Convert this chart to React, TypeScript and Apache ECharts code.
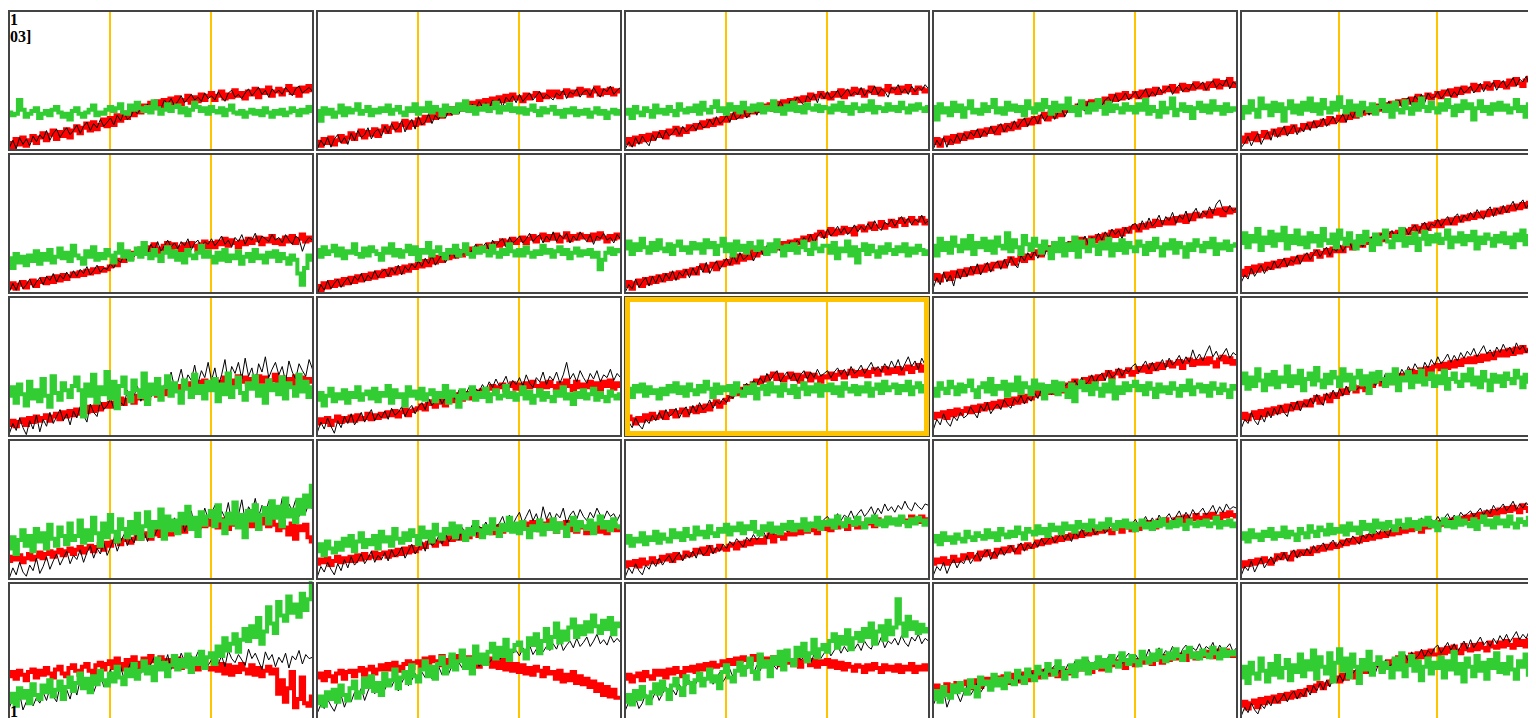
import { useEffect, useRef } from "react";
import * as echarts from "echarts";

const titleLines = ["1", "03]"];
const cornerLabel = "1";
const xMax = 90;
const guideMarks = [30, 60];
const highlighted = 12;

// Row 1
const red01 = [5,2,8,4,9,3,7,10,5,9, 12,7,11,14,8,13,10,15,9,14, 17,12,16,19,14,20,15,18,22,17, 23,18,25,21,27,23,29,25,31,27, 32,28,34,30,35,31,36,32,37,33, 38,33,36,39,34,38,35,40,36,39, 41,36,39,42,37,40,38,43,39,41, 37,42,40,44,38,43,41,45,39,42, 44,40,43,46,41,44,39,45,42,46,43];
const black01 = [2,7,1,9,4,8,3,10,6,11, 8,14,7,12,15,9,13,16,11,14, 18,12,17,20,14,19,16,22,17,20, 23,18,25,21,27,22,24,29,26,30, 28,33,29,35,31,30,36,33,37,32, 35,39,34,37,40,36,38,35,41,37, 39,36,42,38,35,41,43,38,40,37, 41,44,39,42,45,40,43,38,44,41, 43,40,45,42,39,44,46,41,43,45,42];
const green01 = [27,25,26,36,29,24,26,28,30,23, 26,28,25,29,31,27,24,26,22,28, 30,26,24,27,29,32,25,27,26,29, 31,28,30,33,27,26,32,29,34,30, 28,31,27,35,30,26,29,33,28,31, 32,27,30,25,29,34,31,28,30,26, 31,28,27,30,25,29,32,27,26,28, 24,27,29,26,28,25,30,27,24,28, 26,29,25,27,30,28,25,29,27,31,28];

const red02 = [6,3,8,5,9,4,7,10,6,9, 12,8,11,14,9,13,11,15,10,14, 17,13,16,19,14,18,21,16,20,18, 22,19,24,21,26,23,27,24,29,26, 30,27,32,29,33,30,34,31,35,33, 36,33,37,34,38,35,39,36,40,37, 38,35,40,37,39,41,36,40,38,42, 39,42,38,41,43,39,42,40,44,41, 43,39,42,45,40,43,41,44,40,43,42];
const black02 = [1,7,3,9,2,8,11,5,9,4, 12,7,14,9,11,16,8,13,15,10, 17,12,19,14,16,21,13,18,22,15, 24,18,20,26,19,25,22,27,23,28, 25,30,26,32,28,27,33,29,35,31, 34,30,36,33,37,31,38,35,39,34, 40,35,38,41,36,39,42,37,40,38, 36,41,39,43,37,42,40,44,38,42, 43,39,45,41,38,44,42,46,40,43,45];
const green02 = [28,21,30,26,29,24,27,32,25,30, 27,29,33,26,28,31,25,29,27,30, 28,32,26,29,31,27,25,30,28,33, 26,30,28,34,27,31,29,25,32,28, 30,27,33,29,35,28,31,26,30,29, 32,28,30,34,27,31,29,33,28,30, 27,30,26,29,32,28,25,30,27,29, 31,26,28,24,29,27,30,25,28,26, 29,24,27,30,26,28,23,27,29,26,28];

const red03 = [5,8,4,9,6,10,7,11,8,12, 10,13,9,14,12,16,11,15,13,17, 15,18,16,20,17,21,18,22,19,23, 21,25,23,27,24,28,25,29,27,31, 28,32,30,33,29,34,31,35,33,36, 34,37,35,38,36,40,37,39,41,38, 40,37,41,39,43,38,42,40,44,41, 43,39,42,45,41,44,40,43,46,42, 44,41,45,42,46,43,41,45,44,42,43];
const black03 = [1,6,2,9,4,10,6,3,11,7, 13,8,14,10,12,16,11,17,13,15, 18,14,20,16,17,22,18,24,19,21, 25,20,27,22,24,29,23,26,31,25, 30,26,32,28,33,29,35,31,30,36, 33,38,35,32,39,36,40,34,41,37, 42,37,39,43,38,41,44,39,42,40, 45,39,43,41,46,40,44,42,38,45, 43,47,41,44,40,46,42,45,43,47,44];
const green03 = [26,29,23,31,27,25,30,28,24,32, 27,29,26,31,28,25,33,29,27,30, 28,32,26,34,29,27,31,35,28,30, 26,33,29,31,27,34,30,28,32,29, 33,27,31,29,35,28,30,26,32,29, 34,28,31,27,33,30,29,32,28,31, 30,27,32,29,34,28,31,26,33,30, 28,32,29,35,27,31,30,28,33,29, 31,28,34,30,27,32,29,33,30,28,31];

const red04 = [5,8,3,7,9,5,10,6,11,8, 12,9,13,10,14,11,15,13,16,12, 17,14,18,15,19,16,21,18,22,19, 23,20,24,26,22,27,24,28,25,30, 28,31,29,32,30,34,31,35,33,36, 34,37,35,39,36,40,37,41,38,39, 41,38,42,39,43,40,44,41,42,45, 43,46,42,44,47,43,46,44,48,45, 47,44,48,46,50,45,49,47,51,46,48];
const black04 = [1,7,3,9,2,8,5,11,6,12, 8,13,10,15,9,14,11,17,12,16, 19,13,18,15,21,16,20,23,17,22, 24,19,26,21,25,28,22,27,30,24, 29,32,27,34,30,28,35,31,33,37, 32,36,38,34,40,35,37,41,36,39, 42,37,40,44,38,42,39,45,41,43, 46,40,44,47,42,45,43,48,44,46, 49,43,47,50,45,48,46,51,44,49,47];
const green04 = [31,22,33,27,30,25,34,28,32,24, 30,35,27,29,26,33,28,31,36,27, 30,26,34,29,32,28,31,25,35,30, 27,33,29,36,31,26,34,28,32,30, 37,28,31,25,35,30,27,33,29,36, 31,26,34,28,32,30,27,33,29,31, 27,33,29,36,26,31,28,24,34,27, 30,37,25,29,33,28,31,23,30,34, 28,32,27,35,29,31,26,33,28,30,29];

const red05 = [9,6,11,8,12,7,10,13,9,12, 14,11,15,12,16,13,17,14,15,18, 16,19,17,20,18,21,19,23,20,22, 24,21,25,23,27,24,28,26,29,27, 30,28,32,29,33,31,34,32,35,33, 36,34,37,35,39,36,38,40,37,39, 41,38,42,40,43,39,44,41,45,42, 44,47,43,46,45,48,44,47,49,46, 48,45,50,47,51,48,46,50,52,49,50];
const black05 = [2,5,10,3,8,12,4,9,13,7, 15,9,13,17,10,14,18,11,16,13, 19,14,21,16,18,23,17,20,24,19, 22,26,20,27,23,29,24,26,30,25, 31,26,33,28,30,35,29,32,36,31, 35,38,32,39,36,40,34,41,37,38, 42,37,40,44,38,42,39,45,41,43, 46,41,44,48,42,47,45,49,43,47, 50,45,48,52,46,51,49,53,47,51,49];
const green05 = [23,31,27,35,29,24,37,30,32,25, 34,28,33,21,30,35,27,32,26,34, 29,37,28,33,26,36,30,27,34,29, 38,31,27,35,29,32,25,34,30,28, 33,26,31,36,28,32,24,34,29,27, 35,30,26,33,29,37,31,28,34,30, 27,33,29,36,31,25,32,28,35,30, 33,22,30,35,28,31,26,33,29,34, 29,32,27,30,36,28,31,24,33,29,30];

// Row 2
const red06 = [4,7,3,6,8,4,7,9,5,8, 10,7,11,8,12,9,13,10,12,14, 12,15,13,16,14,17,15,18,16,17, 19,21,20,24,23,27,25,29,28,32, 30,33,31,35,32,29,34,36,31,35, 33,30,35,32,36,34,31,35,37,33, 36,33,37,35,39,34,38,36,33,37, 35,39,36,38,40,35,39,37,41,36, 38,35,40,37,41,36,39,42,37,40,38];
const black06 = [1,7,2,9,3,6,10,4,8,11, 6,12,9,14,8,13,10,15,11,16, 12,17,14,19,13,16,20,15,18,17, 21,18,24,22,27,23,29,26,31,28, 33,29,35,31,37,30,34,38,33,36, 32,37,34,39,31,36,38,33,37,35, 39,34,37,41,35,38,33,40,37,42, 35,40,38,43,36,41,39,37,42,38, 40,36,42,38,35,41,39,30,37,40,38];
const green06 = [25,18,28,22,26,20,27,23,30,21, 28,24,31,22,26,32,25,29,23,34, 27,25,21,30,26,33,24,28,25,31, 27,22,29,35,26,30,24,28,32,26, 36,28,25,31,27,23,29,33,26,30, 24,28,22,31,27,25,29,34,26,30, 26,22,29,24,31,23,27,25,30,21, 26,28,23,31,25,27,22,29,26,30, 23,28,25,21,27,24,14,6,18,27,24];

const red07 = [5,2,7,4,8,5,9,6,10,7, 11,8,12,9,13,10,14,11,15,12, 16,13,17,14,18,15,19,16,20,18, 21,19,23,20,25,22,26,23,27,25, 28,26,30,27,31,29,32,30,34,31, 33,35,32,36,34,38,35,37,39,36, 38,40,36,39,41,37,40,42,38,41, 39,42,37,40,43,38,41,39,42,40, 41,38,42,39,43,40,37,41,39,42,40];
const black07 = [0,6,2,9,3,7,10,4,8,11, 6,12,9,14,8,13,10,16,11,15, 17,12,18,14,20,13,19,16,21,18, 23,19,25,21,27,20,24,28,22,26, 30,25,32,27,34,28,31,35,29,33, 36,31,38,34,37,39,33,40,36,38, 41,36,39,43,37,40,42,36,41,38, 44,37,42,39,43,36,41,38,44,40, 37,42,35,41,39,43,38,40,36,42,39];
const green07 = [31,26,33,28,30,34,27,32,25,30, 29,35,28,26,32,27,33,30,28,24, 32,29,35,27,31,26,30,34,28,33, 24,31,29,36,27,30,33,28,25,31, 29,34,27,30,35,28,26,32,29,33, 30,27,34,29,26,31,28,35,30,27, 31,27,33,29,26,30,28,34,29,31, 26,30,33,28,31,25,29,32,27,30, 28,31,26,29,17,24,29,32,28,31,30];

const red08 = [5,8,3,7,9,5,10,7,11,8, 12,9,13,10,14,11,15,12,16,14, 17,14,18,20,16,19,21,17,22,20, 23,21,25,22,27,24,28,25,30,27, 29,32,30,33,31,35,32,36,34,37, 35,38,36,40,38,41,39,42,44,41, 43,46,42,45,43,47,44,46,42,47, 48,45,47,50,46,48,51,47,49,52, 48,51,53,49,52,54,50,52,54,50,52];
const black08 = [1,6,3,10,4,8,11,5,12,7, 13,8,14,10,16,9,15,12,17,11, 18,13,20,15,22,14,19,23,17,21, 25,20,27,22,29,24,26,30,23,28, 32,27,34,29,31,36,30,35,33,37, 33,38,35,40,37,42,36,41,44,39, 46,41,44,48,43,47,42,45,49,44, 48,45,50,46,52,47,45,51,49,53, 48,52,55,50,54,49,53,51,56,50,52];
const green08 = [32,37,28,35,31,39,33,29,36,31, 38,32,30,35,28,34,37,31,33,29, 36,32,35,29,38,33,36,28,34,39, 30,35,27,37,31,34,29,36,33,31, 37,32,28,35,30,38,33,27,34,31, 35,29,33,37,31,28,36,32,30,34, 34,29,36,25,32,30,37,27,33,22, 31,35,28,34,30,26,33,29,35,31, 28,33,30,35,27,32,29,34,31,28,30];

const red09 = [10,13,9,12,14,10,15,12,16,13, 17,14,18,15,19,16,20,17,21,19, 22,19,23,25,21,24,26,23,27,25, 28,30,27,31,33,29,32,34,31,35, 33,36,34,37,39,35,38,40,37,41, 39,42,40,44,41,45,42,46,44,47, 48,45,49,47,50,48,52,49,51,50, 53,50,54,52,55,51,56,53,57,55, 56,58,55,59,57,60,56,61,58,60,59];
const black09 = [4,11,6,15,8,13,5,16,10,17, 12,19,14,21,13,18,22,15,20,23, 17,24,19,26,21,18,27,23,29,25, 30,25,32,27,34,29,31,36,30,35, 37,32,39,34,36,41,35,40,38,43, 38,44,40,46,42,45,39,47,43,49, 50,45,52,47,54,48,51,56,49,55, 52,58,50,56,53,59,51,57,61,54, 59,56,62,57,64,67,60,58,63,59,61];
const green09 = [34,27,39,31,36,29,40,34,30,38, 32,41,28,36,33,39,31,37,29,40, 34,32,43,30,38,33,28,41,35,31, 39,34,29,37,32,25,36,30,39,27, 35,31,40,26,37,33,30,38,34,28, 36,32,39,27,35,31,38,29,36,33, 30,37,34,28,36,31,39,33,27,35, 32,38,29,36,33,26,35,31,38,34, 30,36,33,39,28,35,32,37,31,34,35];

const red10 = [16,13,18,15,19,16,20,17,21,18, 22,19,23,20,24,21,25,22,26,24, 27,24,28,30,26,29,31,27,32,30, 33,30,34,36,32,35,37,34,38,36, 39,37,40,42,38,41,43,40,44,42, 45,43,46,48,44,47,49,46,50,48, 51,48,52,50,53,50,54,52,55,53, 56,54,57,55,58,56,59,57,60,58, 61,59,62,60,63,61,64,62,65,62,63];
const black10 = [8,13,10,18,12,16,20,14,19,17, 23,18,21,25,19,24,22,27,21,26, 29,24,28,31,26,30,33,27,32,30, 35,30,34,37,31,36,39,33,38,36, 41,36,40,43,37,42,45,39,44,42, 47,42,46,49,43,48,51,45,50,48, 53,48,52,55,49,54,57,51,56,53, 58,54,60,56,53,59,62,55,61,57, 63,58,62,66,60,64,67,61,65,62,64];
const green10 = [36,43,33,41,37,46,31,40,36,44, 34,42,38,47,32,41,36,45,35,40, 33,43,37,41,34,46,38,36,42,33, 45,39,35,43,37,32,41,36,44,38, 31,42,35,40,45,37,33,41,38,46, 34,40,36,43,31,39,44,35,41,37, 42,36,39,45,33,40,37,43,35,41, 38,44,32,40,36,42,39,34,41,37, 43,36,40,33,42,38,45,35,41,37,40];

// Row 3
const red11 = [8,11,7,10,12,8,13,10,14,11, 13,15,11,14,16,12,17,14,18,15, 19,16,20,17,21,18,22,19,23,21, 24,21,25,27,23,26,28,24,29,27, 30,27,31,33,29,32,34,30,35,33, 36,33,37,35,38,36,39,37,40,38, 37,41,36,39,42,37,40,36,43,39, 42,37,41,38,43,39,42,37,40,44, 38,42,37,41,36,43,39,42,37,41,39];
const black11 = [2,9,4,13,6,1,11,5,15,3, 12,7,17,9,14,19,11,16,8,18, 13,21,15,10,23,17,14,25,19,22, 27,20,30,24,22,33,26,29,36,25, 31,38,28,35,42,30,37,33,46,35, 39,48,36,44,40,51,38,47,42,53, 40,49,36,44,55,38,50,45,53,41, 56,43,49,37,52,46,57,42,48,53, 44,50,39,54,46,41,52,47,43,55,48];
const green11 = [29,35,24,37,30,22,39,27,33,25, 41,29,21,43,31,26,38,33,28,36, 42,33,14,37,29,44,24,35,30,46, 27,39,20,36,42,31,25,40,33,28, 45,23,37,30,41,26,35,43,29,38, 32,24,40,34,28,44,31,36,27,39, 33,41,25,37,30,45,28,35,42,31, 26,38,34,43,29,36,24,40,33,37, 30,42,27,38,35,29,44,32,39,28,35];

const red12 = [9,12,10,13,8,11,14,10,13,11, 14,11,15,12,13,16,12,15,13,16, 14,17,15,18,14,17,19,15,18,19, 20,22,19,23,25,21,24,26,22,27, 25,28,30,26,29,31,27,32,30,33, 31,34,36,32,35,37,33,36,38,34, 37,33,38,35,39,36,33,38,35,39, 36,33,38,35,40,36,33,39,35,37, 35,39,34,38,33,39,36,40,34,38,36];
const black12 = [3,10,5,13,7,2,11,6,14,9, 16,8,12,17,10,15,19,11,16,13, 18,12,20,15,17,21,14,19,22,16, 21,24,19,27,22,25,29,23,28,26, 31,26,33,28,30,35,29,34,32,37, 33,39,35,41,36,38,43,35,40,37, 42,36,44,38,35,42,39,46,37,43, 40,46,38,44,53,41,45,39,47,42, 38,45,41,47,39,44,42,48,40,45,42];
const green12 = [26,31,22,29,34,25,30,27,33,24, 31,28,35,26,30,32,27,34,25,31, 29,36,24,33,28,30,22,35,29,32, 27,34,26,30,33,25,31,28,36,24, 32,29,21,33,27,30,35,26,31,28, 34,25,30,33,27,29,36,28,31,26, 30,35,27,32,24,29,33,26,31,28, 25,32,29,35,27,30,23,31,28,33, 27,30,34,26,31,28,25,32,29,27,30];

const red13 = [11,14,12,9,13,11,15,12,16,13, 14,17,13,16,18,14,17,19,15,18, 20,17,21,18,22,19,23,25,21,24, 26,28,30,32,30,34,36,34,38,40, 38,42,40,43,45,41,44,40,42,45, 41,44,39,43,45,40,44,42,39,43, 42,45,41,44,46,42,45,47,43,46, 44,47,43,46,48,44,47,49,45,48, 46,49,45,48,50,46,49,51,47,50,48];
const black13 = [3,10,6,13,8,5,12,9,15,11, 17,12,19,14,16,20,13,18,21,15, 22,17,24,19,21,26,20,25,23,27, 24,29,27,33,30,35,38,33,40,37, 42,38,45,40,44,47,39,43,46,41, 45,39,44,47,41,46,42,48,43,45, 47,42,46,49,44,48,43,50,45,47, 51,45,49,53,47,50,46,52,48,54, 49,55,47,52,57,50,54,48,56,51,53];
const green13 = [30,34,28,36,32,37,29,35,31,33, 27,34,30,36,32,38,31,35,29,37, 33,30,36,32,39,34,28,37,31,35, 33,36,30,38,32,29,35,31,37,27, 34,36,30,38,32,35,29,37,33,31, 36,28,34,38,30,35,32,37,29,36, 33,37,31,35,29,38,34,32,36,30, 35,32,38,29,34,37,31,39,33,35, 37,31,36,33,39,30,35,38,32,36,34];

const red14 = [13,16,14,17,13,18,15,19,16,18, 20,17,21,18,22,19,23,20,24,21, 25,22,26,23,27,24,28,25,29,27, 29,32,30,33,35,31,34,36,32,37, 35,38,40,36,39,41,37,42,39,43, 41,44,46,42,45,47,43,46,48,44, 46,49,47,50,46,51,48,52,49,51, 53,50,52,54,49,53,55,51,54,52, 55,52,56,53,50,55,57,53,56,52,54];
const black14 = [5,12,8,16,10,7,14,11,17,13, 15,21,17,13,22,18,24,16,20,23, 19,26,22,20,27,24,29,23,28,25, 31,27,33,29,35,30,32,37,31,36, 38,34,40,36,42,37,39,44,38,43, 45,40,47,42,44,49,43,48,46,50, 52,46,50,54,48,53,47,51,55,49, 56,51,54,58,52,57,53,62,55,59, 54,60,65,57,61,55,59,63,56,60,58];
const green14 = [34,29,38,34,31,39,35,30,37,32, 36,40,33,28,35,38,32,41,30,36, 34,39,29,37,33,42,31,38,35,30, 40,34,37,27,36,32,39,30,38,33, 28,37,25,35,39,33,36,30,38,34, 29,37,32,40,27,35,31,38,33,36, 39,33,36,30,38,34,28,37,32,35, 31,38,34,29,36,33,40,30,35,37, 32,36,29,38,34,31,37,33,28,36,34];

const red15 = [13,16,12,15,17,13,18,15,19,16, 20,17,21,18,22,19,23,20,24,22, 25,22,26,28,24,27,29,25,30,28, 30,33,31,34,36,32,35,37,33,38, 36,39,41,37,40,42,38,43,41,44, 42,45,47,43,46,48,44,49,47,50, 51,48,52,49,53,50,54,51,55,53, 56,53,57,54,58,55,59,56,60,58, 61,58,62,59,63,60,64,61,62,65,62];
const black15 = [6,12,9,17,11,8,15,10,18,13, 20,15,22,17,14,23,19,25,18,24, 21,27,23,30,25,22,31,27,33,28, 34,29,36,31,38,33,35,40,34,39, 41,36,43,38,45,40,37,46,42,48, 44,50,46,52,48,45,53,49,55,51, 57,52,55,59,53,58,54,60,56,61, 58,63,57,61,65,59,62,57,64,60, 66,61,64,59,67,62,65,60,64,63,61];
const green15 = [38,45,34,42,36,48,40,33,44,37, 46,35,42,39,50,36,43,38,47,33, 41,45,37,49,40,35,44,38,46,42, 36,48,40,44,34,42,47,37,43,31, 45,39,46,41,36,44,38,48,33,42, 40,46,35,43,39,47,37,41,45,36, 43,38,47,34,41,45,39,36,44,40, 48,37,42,35,46,40,33,44,39,43, 36,45,41,38,47,42,35,44,39,42,41];

// Row 4
const red16 = [13,16,14,17,12,15,18,14,16,19, 15,18,20,16,19,21,17,20,22,18, 21,23,19,22,24,20,23,25,21,26, 24,27,29,25,28,30,26,29,32,29, 31,33,29,32,35,31,34,36,32,37, 35,38,34,39,36,40,37,41,38,42, 39,42,37,43,40,36,42,39,44,38, 41,43,38,42,36,40,44,38,42,39, 35,41,37,32,40,29,38,35,39,30,27];
const black16 = [1,8,3,12,5,2,10,6,15,4, 9,16,7,13,18,10,15,20,11,17, 14,21,12,19,24,15,22,18,26,17, 23,29,20,27,32,24,30,26,35,28, 33,27,38,31,36,42,30,40,35,44, 38,46,34,42,49,37,45,40,51,43, 47,53,41,49,44,55,40,51,46,57, 42,52,48,58,45,53,47,56,43,51, 46,58,44,54,49,57,45,52,48,55,50];
const green16 = [22,30,18,28,35,24,31,20,36,27, 33,22,39,29,24,37,31,25,40,28, 31,42,26,35,28,44,33,24,40,30, 46,34,27,43,36,30,41,33,47,29, 38,48,31,41,37,50,29,45,35,42, 33,47,40,52,36,44,31,48,39,45, 49,38,53,42,33,47,40,55,37,46, 30,49,42,53,36,46,51,40,56,44, 52,38,58,45,50,41,57,47,60,52,67];

const red17 = [11,14,12,15,10,13,16,12,15,13, 16,13,17,14,18,15,16,19,15,18, 19,16,20,17,21,18,22,19,23,20, 22,25,23,26,28,24,27,29,25,30, 28,31,29,32,34,30,33,35,31,36, 34,37,33,36,38,34,37,39,35,38, 39,36,40,37,41,38,35,40,37,42, 38,34,40,37,41,35,39,34,40,37, 33,38,36,39,34,38,33,37,39,35,36];
const black17 = [2,9,5,12,7,3,11,6,14,8, 16,10,13,18,11,15,20,12,17,14, 19,13,21,16,18,23,15,20,25,18, 22,27,20,29,24,26,31,25,33,27, 30,35,28,37,32,34,39,31,38,36, 41,35,43,38,40,45,37,46,39,44, 48,40,45,50,42,47,39,52,43,48, 41,47,44,51,40,46,49,43,50,45, 42,48,44,51,46,43,49,45,47,42,47];
const green17 = [20,25,17,27,22,19,26,21,29,24, 31,20,27,33,23,28,25,31,22,34, 27,30,24,36,29,26,33,28,35,31, 25,37,30,34,27,39,32,29,36,33, 40,30,38,34,28,36,32,41,35,30, 38,33,43,36,31,39,35,44,34,40, 33,41,36,30,38,35,42,32,39,36, 43,34,40,37,31,39,44,35,41,38, 36,42,33,40,45,37,41,35,43,38,37];

const red18 = [9,12,10,13,9,14,11,12,15,12, 13,16,14,17,13,18,15,16,19,17, 18,21,19,22,18,23,20,21,24,22, 21,24,25,22,26,24,27,25,28,26, 28,26,30,32,27,31,33,29,32,34, 32,35,33,36,34,37,35,33,38,36, 37,35,39,37,40,38,36,41,39,37, 40,38,42,40,38,43,41,39,44,41, 42,40,44,42,40,45,43,41,45,43,42];
const black18 = [2,8,4,11,6,3,10,7,13,9, 15,10,14,17,12,16,19,13,18,15, 20,15,22,17,19,24,18,23,20,25, 22,27,24,29,26,23,30,27,32,28, 31,34,29,36,32,35,33,38,34,37, 36,40,38,42,37,41,39,44,40,43, 45,41,43,47,42,46,44,49,43,47, 50,45,48,52,46,51,47,54,49,52, 48,53,50,56,51,49,55,52,50,54,53];
const green18 = [26,31,24,29,27,33,25,30,28,34, 26,32,29,27,35,30,33,28,36,31, 29,37,32,34,30,38,33,31,36,34, 39,32,37,35,40,33,38,36,41,34, 32,38,35,40,34,37,33,39,36,41, 35,39,37,43,35,40,38,44,36,41, 39,42,37,45,40,38,43,41,39,44, 40,37,43,41,45,39,42,38,44,40, 43,39,45,41,38,43,40,44,42,39,42];

const red19 = [11,14,12,15,11,13,16,13,14,17, 15,18,16,14,19,17,20,18,16,21, 19,22,20,23,21,19,24,22,25,23, 24,27,25,28,26,29,27,30,28,31, 29,32,30,33,31,34,32,35,33,36, 34,37,35,33,38,36,34,39,37,35, 38,36,40,38,41,39,37,42,40,43, 41,39,43,44,40,45,42,43,46,44, 43,46,44,47,45,43,47,45,48,46,45];
const black19 = [3,9,6,12,4,10,14,8,13,11, 17,11,15,19,13,18,21,14,20,16, 22,17,21,24,19,23,26,20,25,22, 27,23,29,25,28,31,26,30,33,28, 32,27,34,30,36,31,33,37,32,35, 38,33,36,40,35,39,37,41,36,40, 43,38,41,45,40,44,39,46,42,44, 47,42,45,49,43,48,44,50,46,48, 51,46,49,53,47,52,48,54,50,52,51];
const green19 = [27,31,25,33,28,30,26,32,29,27, 34,30,28,33,31,29,35,30,33,28, 36,32,30,34,31,37,33,29,36,34, 32,38,33,36,31,39,35,37,33,40, 36,38,34,41,37,39,35,42,38,36, 40,37,43,39,36,41,38,42,37,40, 35,39,42,37,40,36,41,38,43,39, 37,41,38,43,39,36,42,40,38,41, 39,42,38,40,44,37,41,39,42,38,40];

const red20 = [9,12,10,13,11,14,12,15,13,11, 14,17,15,18,16,14,19,17,20,18, 20,18,22,20,23,21,24,22,25,23, 24,27,25,28,26,29,27,30,28,31, 29,32,30,33,31,34,32,35,33,36, 34,37,35,38,36,34,39,37,40,38, 38,41,39,42,40,43,41,44,42,45, 43,46,44,47,45,48,46,49,47,50, 48,51,49,52,50,48,53,51,49,53,51];
const black20 = [3,9,6,13,5,10,15,8,12,16, 11,17,14,19,13,18,21,15,20,17, 22,18,24,20,23,26,21,25,28,23, 27,24,29,26,31,28,25,32,29,33, 30,35,32,37,33,31,38,35,40,36, 38,42,37,41,39,44,40,37,43,41, 45,41,44,47,42,46,43,48,45,47, 49,45,48,51,46,50,47,53,49,51, 54,49,52,56,50,54,51,55,52,54,53];
const green20 = [29,33,27,35,30,32,28,34,31,36, 29,33,31,37,30,34,32,28,36,33, 30,38,34,31,37,35,32,39,33,36, 34,38,32,40,35,37,33,41,36,39, 34,42,37,40,36,41,38,35,42,39, 37,43,38,41,36,42,39,44,38,41, 35,40,43,38,41,37,44,39,42,40, 38,43,36,41,45,39,42,37,44,40, 42,38,45,40,37,43,41,39,44,41,40];

// Row 5
const red21 = [31,34,29,35,32,28,34,36,30,35, 32,37,33,30,36,38,33,31,37,39, 35,32,38,40,35,33,39,41,36,40, 42,37,44,40,36,43,38,45,41,37, 44,39,46,42,37,45,40,43,38,42, 44,37,41,45,38,43,36,42,44,37, 36,42,35,40,33,39,32,38,34,40, 36,33,39,32,37,31,35,38,33,36, 18,28,12,22,34,8,14,30,11,9,16];
const black21 = [8,14,10,18,6,12,20,9,15,11, 19,13,22,16,12,24,18,21,14,25, 17,28,21,24,30,19,26,33,23,29, 36,26,32,38,29,35,41,31,37,33, 43,35,40,45,37,43,39,47,36,44, 40,48,42,38,46,43,49,41,45,39, 43,48,40,46,38,50,44,41,47,43, 39,51,44,48,42,36,49,43,47,38, 45,41,48,37,46,43,50,40,47,44,45];
const green21 = [12,18,9,22,15,20,11,25,17,14, 24,19,28,16,21,27,14,23,30,20, 26,33,22,29,19,31,25,35,28,24, 33,27,38,30,25,36,31,40,29,35, 42,33,38,28,44,36,41,31,39,46, 36,43,38,47,34,44,40,49,37,45, 48,40,53,46,59,50,55,62,49,58, 66,57,68,60,74,55,64,82,70,63, 86,76,72,90,78,84,75,92,80,88,100];

const red22 = [30,33,28,34,31,27,33,35,29,34, 35,31,35,37,32,36,38,33,36,39, 36,40,36,41,38,35,40,42,37,41, 42,38,44,41,45,42,39,46,43,40, 45,41,46,43,39,45,40,44,38,43, 40,44,38,42,37,43,36,41,35,40, 34,39,33,37,32,38,35,31,37,33, 34,29,35,27,32,28,34,26,31,25, 29,23,27,20,25,17,23,16,21,15,15];
const black22 = [4,10,7,14,9,5,12,17,8,15, 12,19,15,22,13,20,25,18,23,16, 21,27,23,29,20,26,31,24,28,33, 27,34,30,36,29,35,38,32,37,33, 39,35,41,37,43,36,40,45,38,42, 47,41,44,49,43,46,51,44,48,50, 46,52,48,54,47,51,56,49,53,50, 55,51,58,50,54,57,52,59,53,56, 60,53,57,62,55,58,54,61,56,59,56];
const green22 = [11,16,9,19,14,21,12,24,17,13, 22,27,15,19,29,23,31,20,26,17, 33,24,28,36,22,30,34,26,39,31, 27,36,42,31,38,29,40,45,33,38, 47,36,42,50,37,44,33,53,41,47, 40,49,55,44,52,46,58,43,50,54, 56,50,44,59,54,62,48,57,66,52, 60,70,56,64,58,67,73,60,68,62, 71,64,76,68,63,72,66,74,62,70,68];

const red23 = [29,32,27,31,33,28,34,31,29,35, 32,35,30,36,33,37,34,31,37,35, 38,34,39,36,40,37,41,38,39,42, 40,43,40,44,42,45,43,40,46,43, 45,41,44,40,45,42,39,44,41,43, 39,43,38,42,44,39,43,38,42,40, 43,38,42,37,41,36,40,38,35,39, 38,34,39,36,40,37,34,39,36,38, 35,39,34,38,36,40,34,38,36,39,36];
const black23 = [6,12,9,15,7,11,18,10,14,20, 13,18,23,15,21,17,25,19,24,28, 20,26,30,23,28,32,25,29,34,27, 31,36,30,34,38,32,36,40,33,39, 35,41,37,43,39,36,44,40,46,42, 39,47,43,45,49,41,47,51,44,48, 52,46,50,54,48,53,49,56,51,55, 50,57,53,51,58,54,60,52,57,55, 59,54,61,56,53,60,57,62,55,59,57];
const green23 = [12,17,10,20,14,23,16,11,19,25, 18,27,21,14,24,29,22,17,31,26, 19,28,33,24,29,36,27,31,22,34, 39,30,27,35,41,32,38,44,34,29, 47,38,42,31,45,40,49,36,50,43, 39,52,46,55,42,48,58,45,51,54, 49,57,62,52,60,55,65,51,59,63, 57,66,60,70,55,64,68,58,72,62, 67,88,70,61,75,66,71,63,69,64,66];

const red24 = [21,24,19,23,25,20,24,26,21,25, 27,22,26,28,23,27,29,24,28,30, 27,31,26,30,32,27,31,33,28,32, 34,30,33,35,32,36,34,31,37,35, 33,37,35,38,36,39,37,34,40,38, 36,40,38,41,39,42,40,37,43,41, 39,43,41,44,42,40,45,43,41,46, 43,46,44,47,45,43,48,46,44,48, 46,49,47,45,50,48,46,50,48,46,48];
const black24 = [10,16,13,20,8,15,22,18,12,19, 24,17,21,26,19,23,28,21,25,30, 23,27,32,25,29,26,33,28,31,35, 29,34,31,37,32,36,39,33,38,35, 40,36,42,38,35,41,43,37,42,39, 44,39,46,41,43,47,40,45,48,42, 47,43,49,45,51,44,48,52,46,50, 47,53,49,45,51,54,48,52,50,55, 49,53,51,56,48,54,50,52,55,49,52];
const green24 = [14,20,12,23,17,15,24,19,26,21, 18,28,23,16,30,25,27,21,32,24, 29,22,33,27,25,35,30,26,36,31, 28,38,33,30,40,35,32,42,37,29, 34,39,31,42,36,44,33,40,37,45, 38,43,35,46,41,38,48,43,40,46, 42,39,49,44,41,47,43,50,45,42, 48,44,51,46,43,49,52,45,48,44, 50,47,45,52,48,44,51,46,49,47,49];

const red25 = [9,12,7,11,13,8,14,11,15,12, 16,12,17,14,18,15,19,16,20,17, 21,23,20,24,26,22,25,27,28,30, 27,32,29,33,34,30,35,37,34,38, 35,39,41,36,40,42,39,43,45,42, 41,45,47,44,48,45,49,46,50,47, 47,51,48,52,49,53,50,48,54,51, 50,54,51,55,52,50,56,53,52,56, 53,57,54,52,58,54,57,53,58,55,55];
const black25 = [2,8,4,11,6,3,10,7,13,9, 16,11,14,18,12,17,20,14,19,16, 22,17,24,20,26,21,28,23,30,26, 32,27,34,29,33,36,30,35,38,33, 39,34,41,37,43,38,40,45,39,44, 47,42,49,44,46,51,45,50,47,52, 54,48,52,56,50,55,49,53,57,51, 58,52,56,60,54,57,53,59,55,61, 57,62,56,60,64,58,62,59,65,60,62];
const green25 = [30,38,26,41,33,29,44,35,27,40, 32,46,30,37,43,28,39,34,47,31, 42,36,50,29,45,38,33,48,27,41, 51,35,44,30,47,38,26,43,36,49, 32,40,45,34,41,37,30,44,36,48, 31,39,46,35,42,28,38,44,33,41, 37,45,30,42,36,49,33,40,27,44, 38,31,46,35,41,29,43,37,48,34, 40,33,45,36,29,42,38,47,32,39,37];

const panels = [
  [black01, red01, green01], [black02, red02, green02], [black03, red03, green03], [black04, red04, green04], [black05, red05, green05],
  [black06, red06, green06], [black07, red07, green07], [black08, red08, green08], [black09, red09, green09], [black10, red10, green10],
  [black11, red11, green11], [black12, red12, green12], [black13, red13, green13], [black14, red14, green14], [black15, red15, green15],
  [black16, red16, green16], [black17, red17, green17], [black18, red18, green18], [black19, red19, green19], [black20, red20, green20],
  [black21, red21, green21], [black22, red22, green22], [black23, red23, green23], [black24, red24, green24], [black25, red25, green25],
];

export default function App() {
  const ref = useRef<HTMLDivElement>(null);
  useEffect(() => {
    document.body.style.overflow = "hidden";
    document.documentElement.style.overflow = "hidden";
    const chart = echarts.init(ref.current!, null, { renderer: "svg" });
    const grids: any[] = [];
    const xAxes: any[] = [];
    const yAxes: any[] = [];
    const series: any[] = [];
    const frames: { bx: number; by: number }[] = [];
    const pitchX = 308;
    const pitchY = 143;
    const toXY = (arr: number[]) => arr.map((v, k) => [k, v]);
    panels.forEach(([black, red, green], i) => {
      const c = i % 5;
      const r = Math.floor(i / 5);
      const bx = 1 + pitchX * c;
      const by = 3 + pitchY * r;
      frames.push({ bx, by });
      grids.push({ left: bx + 0.5, top: by, width: 303, height: 139, show: false, containLabel: false });
      xAxes.push({
        gridIndex: i, type: "value", min: 0, max: xMax,
        axisLine: { show: false }, axisTick: { show: false }, axisLabel: { show: false },
        splitLine: { show: false },
      });
      yAxes.push({ gridIndex: i, type: "value", min: 0, max: 100, show: false });
      series.push({
        type: "line", xAxisIndex: i, yAxisIndex: i, data: toXY(red), step: "middle",
        showSymbol: false, symbol: "none", silent: true, z: 2,
        lineStyle: { color: "#FF0000", width: 4, join: "miter", cap: "butt" },
      });
      series.push({
        type: "line", xAxisIndex: i, yAxisIndex: i, data: toXY(black),
        showSymbol: false, symbol: "none", silent: true, z: 3,
        lineStyle: { color: "#000000", width: 1 },
      });
      series.push({
        type: "line", xAxisIndex: i, yAxisIndex: i, data: toXY(green), step: "middle",
        showSymbol: false, symbol: "none", silent: true, z: 4,
        lineStyle: { color: "#32CD32", width: 4, join: "miter", cap: "butt" },
      });
    });
    chart.setOption({
      animation: false,
      backgroundColor: "#ffffff",
      grid: grids,
      xAxis: xAxes,
      yAxis: yAxes,
      series,
    });
    const graphics: any[] = [];
    frames.forEach(({ bx, by }, i) => {
      guideMarks.forEach((m) => {
        const px = chart.convertToPixel({ xAxisIndex: i } as any, m) as unknown as number;
        graphics.push({
          type: "rect", z: 1, silent: true,
          shape: { x: Math.floor(px) - 1, y: by, width: 2, height: 139 },
          style: { fill: "#FFC400" },
        });
      });
      graphics.push({
        type: "rect", z: 100, silent: true,
        shape: { x: bx, y: by, width: 304, height: 139 },
        style: { fill: "none", stroke: "#444444", lineWidth: 2 },
      });
      if (i === highlighted) {
        graphics.push({
          type: "rect", z: 101, silent: true,
          shape: { x: bx + 2.5, y: by + 2.5, width: 299, height: 134 },
          style: { fill: "none", stroke: "#FFC400", lineWidth: 5 },
        });
      }
    });
    titleLines.forEach((t, k) => {
      graphics.push({
        type: "text", z: 110, silent: true, x: 2, y: 3 + k * 17,
        style: { text: t, font: 'bold 16px "Liberation Serif"', fill: "#000", verticalAlign: "top", align: "left" },
      });
    });
    graphics.push({
      type: "text", z: 110, silent: true, x: 2, y: 695,
      style: { text: cornerLabel, font: 'bold 16px "Liberation Serif"', fill: "#000", verticalAlign: "top", align: "left" },
    });
    chart.setOption({ graphic: graphics });
    return () => chart.dispose();
  }, []);
  return <div ref={ref} style={{ width: 1528, height: 710 }} />;
}
